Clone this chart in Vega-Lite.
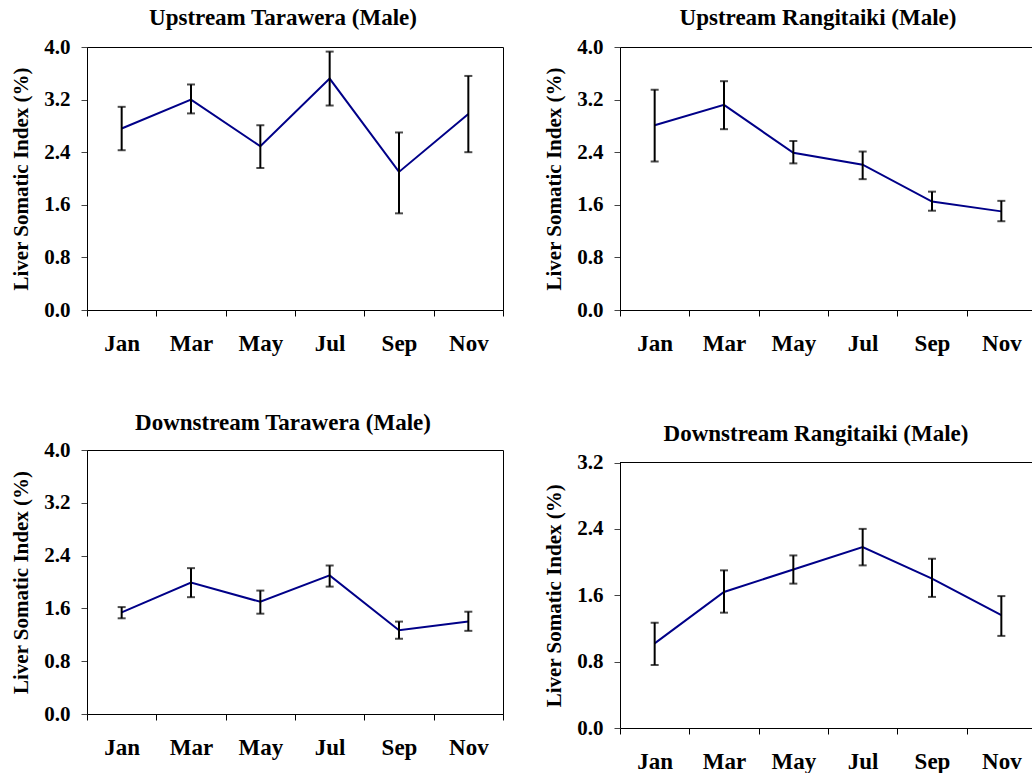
{
  "$schema": "https://vega.github.io/schema/vega-lite/v6.json",
  "background": "white",
  "padding": {"left": 10, "top": 6, "right": 0, "bottom": 0},
  "data": {"values": [
    {"panel": "UT", "month": "Jan", "mean": 2.76, "lo": 2.43, "hi": 3.09},
    {"panel": "UT", "month": "Mar", "mean": 3.20, "lo": 2.99, "hi": 3.43},
    {"panel": "UT", "month": "May", "mean": 2.49, "lo": 2.16, "hi": 2.81},
    {"panel": "UT", "month": "Jul", "mean": 3.52, "lo": 3.11, "hi": 3.93},
    {"panel": "UT", "month": "Sep", "mean": 2.10, "lo": 1.47, "hi": 2.70},
    {"panel": "UT", "month": "Nov", "mean": 2.98, "lo": 2.40, "hi": 3.56},
    {"panel": "UR", "month": "Jan", "mean": 2.81, "lo": 2.26, "hi": 3.35},
    {"panel": "UR", "month": "Mar", "mean": 3.12, "lo": 2.75, "hi": 3.48},
    {"panel": "UR", "month": "May", "mean": 2.39, "lo": 2.23, "hi": 2.57},
    {"panel": "UR", "month": "Jul", "mean": 2.21, "lo": 1.99, "hi": 2.41},
    {"panel": "UR", "month": "Sep", "mean": 1.65, "lo": 1.51, "hi": 1.80},
    {"panel": "UR", "month": "Nov", "mean": 1.50, "lo": 1.35, "hi": 1.66},
    {"panel": "DT", "month": "Jan", "mean": 1.54, "lo": 1.45, "hi": 1.62},
    {"panel": "DT", "month": "Mar", "mean": 1.99, "lo": 1.77, "hi": 2.21},
    {"panel": "DT", "month": "May", "mean": 1.70, "lo": 1.52, "hi": 1.87},
    {"panel": "DT", "month": "Jul", "mean": 2.10, "lo": 1.93, "hi": 2.25},
    {"panel": "DT", "month": "Sep", "mean": 1.27, "lo": 1.14, "hi": 1.40},
    {"panel": "DT", "month": "Nov", "mean": 1.40, "lo": 1.26, "hi": 1.55},
    {"panel": "DR", "month": "Jan", "mean": 1.02, "lo": 0.76, "hi": 1.27},
    {"panel": "DR", "month": "Mar", "mean": 1.64, "lo": 1.39, "hi": 1.90},
    {"panel": "DR", "month": "May", "mean": 1.91, "lo": 1.74, "hi": 2.08},
    {"panel": "DR", "month": "Jul", "mean": 2.18, "lo": 1.96, "hi": 2.40},
    {"panel": "DR", "month": "Sep", "mean": 1.80, "lo": 1.58, "hi": 2.04},
    {"panel": "DR", "month": "Nov", "mean": 1.36, "lo": 1.11, "hi": 1.59}
  ]},
  "columns": 2,
  "bounds": "flush",
  "spacing": {"column": 117, "row": 140},
  "concat": [
    {
      "title": {"text": "Upstream Tarawera (Male)", "offset": 6, "dx": -12},
      "width": 416, "height": 263,
      "transform": [{"filter": "datum.panel === 'UT'"}],
      "encoding": {"x": {"field": "month", "type": "ordinal", "sort": ["Jan", "Mar", "May", "Jul", "Sep", "Nov"], "scale": {"paddingInner": 0, "paddingOuter": 0}, "title": null}},
      "layer": [
        {"mark": {"type": "line", "color": "#000088", "strokeWidth": 2}, "encoding": {"y": {"field": "mean", "type": "quantitative", "scale": {"domain": [0, 4], "nice": false}, "title": "Liver Somatic Index (%)", "axis": {"values": [0, 0.8, 1.6, 2.4, 3.2, 4.0]}}}},
        {"mark": {"type": "rule", "color": "black", "strokeWidth": 2}, "encoding": {"y": {"field": "lo", "type": "quantitative", "title": "Liver Somatic Index (%)"}, "y2": {"field": "hi"}}},
        {"mark": {"type": "tick", "color": "black", "thickness": 2, "size": 8}, "encoding": {"y": {"field": "lo", "type": "quantitative", "title": "Liver Somatic Index (%)"}}},
        {"mark": {"type": "tick", "color": "black", "thickness": 2, "size": 8}, "encoding": {"y": {"field": "hi", "type": "quantitative", "title": "Liver Somatic Index (%)"}}}
      ]
    },
    {
      "title": {"text": "Upstream Rangitaiki (Male)", "offset": 6, "dx": -10},
      "width": 416, "height": 263,
      "transform": [{"filter": "datum.panel === 'UR'"}],
      "encoding": {"x": {"field": "month", "type": "ordinal", "sort": ["Jan", "Mar", "May", "Jul", "Sep", "Nov"], "scale": {"paddingInner": 0, "paddingOuter": 0}, "title": null}},
      "layer": [
        {"mark": {"type": "line", "color": "#000088", "strokeWidth": 2}, "encoding": {"y": {"field": "mean", "type": "quantitative", "scale": {"domain": [0, 4], "nice": false}, "title": "Liver Somatic Index (%)", "axis": {"values": [0, 0.8, 1.6, 2.4, 3.2, 4.0]}}}},
        {"mark": {"type": "rule", "color": "black", "strokeWidth": 2}, "encoding": {"y": {"field": "lo", "type": "quantitative", "title": "Liver Somatic Index (%)"}, "y2": {"field": "hi"}}},
        {"mark": {"type": "tick", "color": "black", "thickness": 2, "size": 8}, "encoding": {"y": {"field": "lo", "type": "quantitative", "title": "Liver Somatic Index (%)"}}},
        {"mark": {"type": "tick", "color": "black", "thickness": 2, "size": 8}, "encoding": {"y": {"field": "hi", "type": "quantitative", "title": "Liver Somatic Index (%)"}}}
      ]
    },
    {
      "title": {"text": "Downstream Tarawera (Male)", "offset": 4, "dx": -12},
      "width": 416, "height": 264,
      "transform": [{"filter": "datum.panel === 'DT'"}],
      "encoding": {"x": {"field": "month", "type": "ordinal", "sort": ["Jan", "Mar", "May", "Jul", "Sep", "Nov"], "scale": {"paddingInner": 0, "paddingOuter": 0}, "title": null}},
      "layer": [
        {"mark": {"type": "line", "color": "#000088", "strokeWidth": 2}, "encoding": {"y": {"field": "mean", "type": "quantitative", "scale": {"domain": [0, 4], "nice": false}, "title": "Liver Somatic Index (%)", "axis": {"values": [0, 0.8, 1.6, 2.4, 3.2, 4.0]}}}},
        {"mark": {"type": "rule", "color": "black", "strokeWidth": 2}, "encoding": {"y": {"field": "lo", "type": "quantitative", "title": "Liver Somatic Index (%)"}, "y2": {"field": "hi"}}},
        {"mark": {"type": "tick", "color": "black", "thickness": 2, "size": 8}, "encoding": {"y": {"field": "lo", "type": "quantitative", "title": "Liver Somatic Index (%)"}}},
        {"mark": {"type": "tick", "color": "black", "thickness": 2, "size": 8}, "encoding": {"y": {"field": "hi", "type": "quantitative", "title": "Liver Somatic Index (%)"}}}
      ]
    },
    {
      "title": {"text": "Downstream Rangitaiki (Male)", "offset": 4, "dx": -12},
      "width": 416, "height": 278,
      "view": {"stroke": null},
      "transform": [{"filter": "datum.panel === 'DR'"}],
      "layer": [
        {"mark": {"type": "line", "color": "#000088", "strokeWidth": 2}, "encoding": {
          "x": {"field": "month", "type": "ordinal", "sort": ["Jan", "Mar", "May", "Jul", "Sep", "Nov"], "scale": {"paddingInner": 0, "paddingOuter": 0}, "title": null},
          "y": {"field": "mean", "type": "quantitative", "scale": {"domain": [0, 3.2], "nice": false, "range": [278, 12.5]}, "title": "Liver Somatic Index (%)", "axis": {"values": [0, 0.8, 1.6, 2.4, 3.2]}}}},
        {"mark": {"type": "rule", "color": "black", "strokeWidth": 2}, "encoding": {
          "x": {"field": "month", "type": "ordinal", "sort": ["Jan", "Mar", "May", "Jul", "Sep", "Nov"], "title": null},
          "y": {"field": "lo", "type": "quantitative", "title": "Liver Somatic Index (%)"}, "y2": {"field": "hi"}}},
        {"mark": {"type": "tick", "color": "black", "thickness": 2, "size": 8}, "encoding": {
          "x": {"field": "month", "type": "ordinal", "sort": ["Jan", "Mar", "May", "Jul", "Sep", "Nov"], "title": null},
          "y": {"field": "lo", "type": "quantitative", "title": "Liver Somatic Index (%)"}}},
        {"mark": {"type": "tick", "color": "black", "thickness": 2, "size": 8}, "encoding": {
          "x": {"field": "month", "type": "ordinal", "sort": ["Jan", "Mar", "May", "Jul", "Sep", "Nov"], "title": null},
          "y": {"field": "hi", "type": "quantitative", "title": "Liver Somatic Index (%)"}}},
        {"mark": {"type": "rule", "color": "black", "strokeWidth": 1}, "encoding": {"y": {"datum": 3.2, "type": "quantitative", "title": "Liver Somatic Index (%)"}}}
      ]
    }
  ],
  "config": {
    "font": "Liberation Serif",
    "view": {"stroke": "black", "strokeWidth": 1},
    "title": {"font": "Liberation Serif", "fontWeight": "bold", "fontSize": 23, "color": "black", "baseline": "alphabetic", "anchor": "middle"},
    "axis": {"labelFont": "Liberation Serif", "labelFontWeight": "bold", "labelColor": "black", "titleFont": "Liberation Serif", "titleFontWeight": "bold", "titleColor": "black", "domainColor": "black", "domainWidth": 1, "grid": false},
    "axisY": {"format": ".1f", "tickSize": 6, "tickColor": "#444", "labelFontSize": 21, "labelPadding": 11, "titleFontSize": 21, "titlePadding": 12},
    "axisX": {"tickBand": "extent", "tickSize": 6, "tickColor": "black", "labelFontSize": 23, "labelPadding": 16, "labelAngle": 0, "labelBaseline": "top"}
  }
}
